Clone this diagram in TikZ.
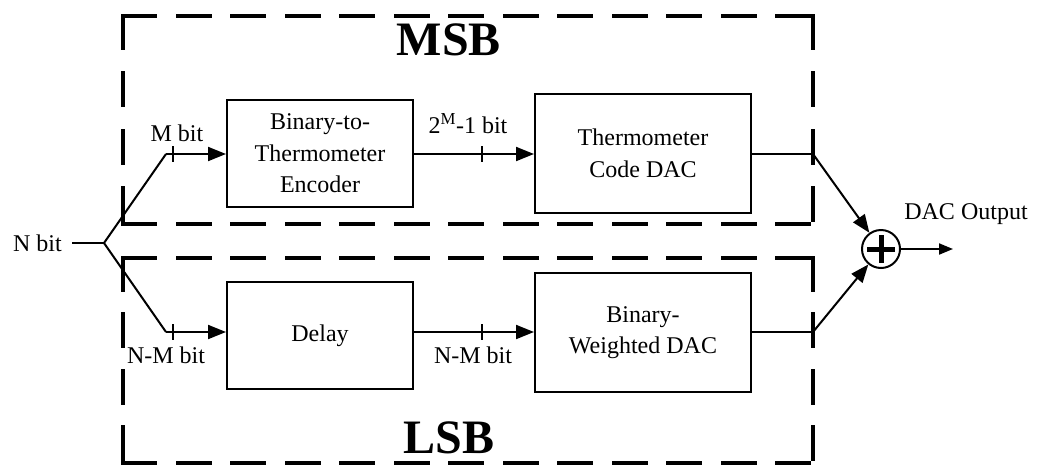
\documentclass[tikz,border=0pt]{standalone}
\usepackage{fontspec}
\setmainfont{Liberation Serif}
\usetikzlibrary{arrows.meta}
\begin{document}
\begin{tikzpicture}[x=1pt,y=-1pt,
  blk/.style={draw,line width=2pt,inner sep=0pt,align=center,font=\fontsize{24}{31.5}\selectfont},
  lbl/.style={inner sep=0pt,font=\fontsize{24}{28}\selectfont},
  big/.style={inner sep=0pt,font=\fontsize{48}{50}\selectfont\bfseries},
  region/.style={draw,line width=4pt,line cap=rect},
  hside/.style={region,dash pattern=on 32pt off 22.5pt},
  vsideA/.style={region,dash pattern=on 32pt off 25.3pt},
  vsideB/.style={region,dash pattern=on 32pt off 24.3pt},
  wire/.style={line width=2pt},
  arr/.style={wire,-{Triangle[length=18pt,width=14pt]}},
  tick/.style={line width=2pt}]
\path[use as bounding box] (0,0) rectangle (1039,467);
% dashed regions
\coordinate (m1) at (123,16);
\coordinate (m2) at (813,16);
\coordinate (m3) at (813,224);
\coordinate (m4) at (123,224);
\draw[hside] (m1) -- (m2);
\draw[hside] (m4) -- (m3);
\draw[vsideA] (m1) -- (m4);
\draw[vsideA] (m2) -- (m3);
\coordinate (l1) at (123,258);
\coordinate (l2) at (813,258);
\coordinate (l3) at (813,463);
\coordinate (l4) at (123,463);
\draw[hside] (l1) -- (l2);
\draw[hside] (l4) -- (l3);
\draw[vsideB] (l1) -- (l4);
\draw[vsideB] (l2) -- (l3);
\node[big] (msb) at (449,40) {MSB};
\node[big] (lsb) at (449,438) {LSB};
% blocks
\node[blk,minimum width=186pt,minimum height=107pt] (enc) at (320,153.5) {Binary-to-\\Thermometer\\Encoder};
\node[blk,minimum width=216pt,minimum height=119pt] (tdac) at (643,153.5) {Thermometer\\Code DAC};
\node[blk,minimum width=186pt,minimum height=107pt] (delay) at (320,335.5) {Delay};
\node[blk,minimum width=216pt,minimum height=119pt] (bdac) at (643,332.5) {Binary-\\Weighted DAC};
\node[draw,circle,line width=2pt,minimum size=38pt,inner sep=0pt] (sum) at (881,249) {};
\draw[line width=5pt] (sum.center) +(-14,0) -- +(14,0);
\draw[line width=5pt] (sum.center) +(0,-14) -- +(0,14);
% coordinates
\node[lbl,anchor=east] (nbit) at (62,243) {N bit};
\coordinate (split) at (104,243);
\coordinate (tsplit) at (166,154);
\coordinate (bsplit) at (166,332);
\coordinate (tout) at (813,154);
\coordinate (bout) at (813,332);
\coordinate (out) at (953,249);
% wires
\draw[wire] (nbit.east) ++(10,0) -- (split);
\draw[wire] (split) -- (tsplit);
\draw[wire] (split) -- (bsplit);
\draw[arr] (tsplit) -- (enc.west |- tsplit);
\draw[arr] (bsplit) -- (delay.west |- bsplit);
\draw[arr] (enc.east |- tsplit) -- (tdac.west |- tsplit);
\draw[arr] (delay.east |- bsplit) -- (bdac.west |- bsplit);
\draw[wire] (tdac.east |- tout) -- (tout);
\draw[wire] (bdac.east |- bout) -- (bout);
\draw[arr] (tout) -- (sum);
\draw[arr] (bout) -- (sum);
\draw[wire,-{Triangle[length=14pt,width=11pt]}] (sum) -- (out);
% ticks
\draw[tick] (173,146) -- (173,162);
\draw[tick] (482,146) -- (482,162);
\draw[tick] (173,324) -- (173,340);
\draw[tick] (482,324) -- (482,340);
% labels
\node[lbl] (mbit) at (177,133) {M bit};
\node[lbl] (tbit) at (468,124) {2\textsuperscript{M}-1 bit};
\node[lbl] (nm1) at (166,355) {N-M bit};
\node[lbl] (nm2) at (473,355) {N-M bit};
\node[lbl] (dacout) at (966,214) {DAC Output};
\end{tikzpicture}
\end{document}
